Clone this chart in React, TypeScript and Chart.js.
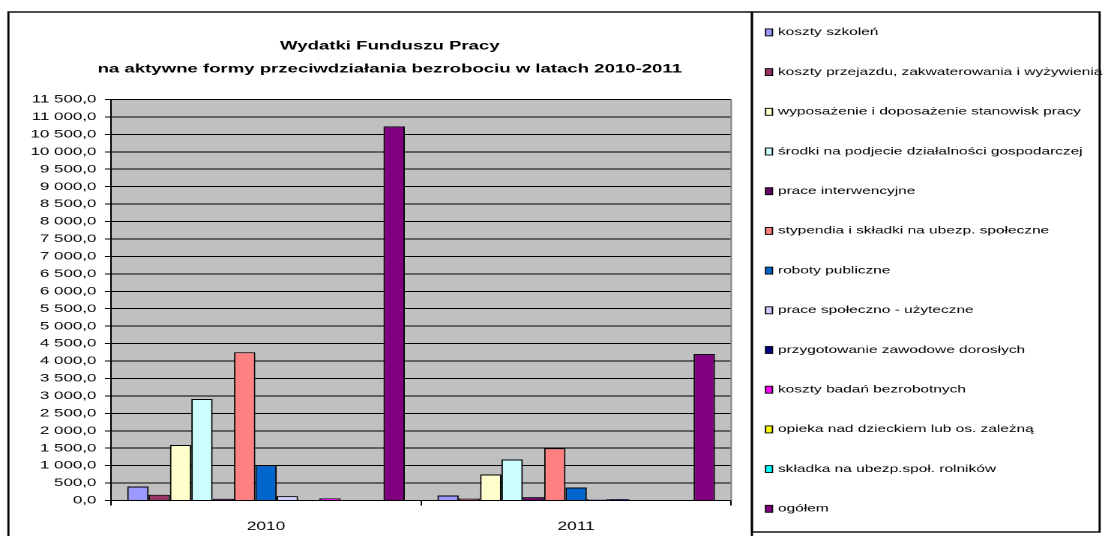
import React, { useEffect, useRef } from 'react';
import { Chart, registerables } from 'chart.js';

Chart.register(...registerables);

// ---------- data ----------
const categories = ['2010', '2011'];

const seriesLabels = [
  'koszty szkoleń',
  'koszty przejazdu, zakwaterowania i wyżywienia',
  'wyposażenie i doposażenie stanowisk pracy',
  'środki na podjecie działalności gospodarczej',
  'prace interwencyjne',
  'stypendia i składki na ubezp. społeczne',
  'roboty publiczne',
  'prace społeczno - użyteczne',
  'przygotowanie zawodowe dorosłych',
  'koszty badań bezrobotnych',
  'opieka nad dzieckiem lub os. zależną',
  'składka na ubezp.społ. rolników',
  'ogółem',
];

const seriesColors = [
  '#9999FF', '#993366', '#FFFFCC', '#CCFFFF', '#660066', '#FF8080', '#0066CC',
  '#CCCCFF', '#000080', '#FF00FF', '#FFFF00', '#00FFFF', '#800080',
];

const values2010 = [400, 165, 1590, 2910, 50, 4250, 1010, 125, 5, 60, 0, 0, 10730];
const values2011 = [143, 55, 746, 1176, 95, 1500, 373, 40, 40, 0, 0, 0, 4200];

const titleLines = [
  'Wydatki Funduszu Pracy',
  'na aktywne formy przeciwdziałania bezrobociu w latach 2010-2011',
];

const yMin = 0;
const yMax = 11500;
const yStep = 500;

// ---------- geometry (internal canvas units; canvas is stretched horizontally) ----------
const W = 737;
const H = 536;
const FONT = '"Liberation Sans", Arial, sans-serif';

const BOX_LEFT = 5.6;
const BOX_TOP = 12;
const LEGEND_LEFT = 501.5;
const LEGEND_RIGHT = 733.4;
const LEGEND_BOTTOM = 532;
const LEGEND_Y0 = 32.4;
const LEGEND_STEP = 39.7;
const PLOT_LEFT = 74;
const PLOT_RIGHT = 487.7;
const TITLE_LEFT = 32.3;

function fmt(v: number): string {
  const [i, d] = Number(v).toFixed(1).split('.');
  return i.replace(/\B(?=(\d{3})+(?!\d))/g, '\u00a0') + ',' + d;
}

const framePlugin = {
  id: 'frame',
  afterLayout(chart: any) {
    const t = chart.titleBlock;
    if (t) {
      t.left = TITLE_LEFT;
      t.right = PLOT_RIGHT;
      t.width = PLOT_RIGHT - TITLE_LEFT;
    }
  },
  beforeDraw(chart: any) {
    const { ctx, chartArea: a } = chart;
    ctx.save();
    ctx.fillStyle = '#C0C0C0';
    ctx.fillRect(a.left, a.top, a.right - a.left, a.bottom - a.top);
    ctx.restore();
  },
  afterDraw(chart: any) {
    const { ctx, chartArea: a } = chart;
    ctx.save();
    ctx.strokeStyle = '#808080';
    ctx.lineWidth = 1;
    ctx.beginPath();
    ctx.moveTo(a.right, a.top);
    ctx.lineTo(a.right, a.bottom);
    ctx.stroke();

    ctx.strokeStyle = '#000';
    ctx.lineWidth = 1.4;
    ctx.strokeRect(BOX_LEFT, BOX_TOP, LEGEND_LEFT - BOX_LEFT, 600);
    ctx.strokeRect(LEGEND_LEFT, BOX_TOP, LEGEND_RIGHT - LEGEND_LEFT, LEGEND_BOTTOM - BOX_TOP);

    ctx.font = `10.3px ${FONT}`;
    ctx.textBaseline = 'middle';
    ctx.textAlign = 'left';
    chart.data.datasets.forEach((ds: any, i: number) => {
      const y = LEGEND_Y0 + i * LEGEND_STEP;
      const bx = 510.6;
      ctx.fillStyle = ds.backgroundColor;
      ctx.fillRect(bx, y - 3.5, 4.6, 7);
      ctx.strokeStyle = '#000';
      ctx.lineWidth = 0.9;
      ctx.strokeRect(bx, y - 3.5, 4.6, 7);
      ctx.fillStyle = '#000';
      ctx.fillText(ds.label, 518.9, y);
    });
    ctx.restore();
  },
};

export default function App() {
  const ref = useRef<HTMLCanvasElement | null>(null);

  useEffect(() => {
    if (!ref.current) return;
    const datasets = seriesLabels.map((label, i) => ({
      label,
      data: [values2010[i], values2011[i]],
      backgroundColor: seriesColors[i],
      borderColor: '#000',
      borderWidth: 1,
      categoryPercentage: 0.895,
      barPercentage: 1,
    }));

    const chart = new Chart(ref.current, {
      type: 'bar',
      data: { labels: categories, datasets },
      plugins: [framePlugin],
      options: {
        responsive: false,
        animation: false,
        devicePixelRatio: 2,
        events: [],
        layout: { padding: { left: 0, right: W - PLOT_RIGHT, top: BOX_TOP, bottom: 0 } },
        plugins: {
          legend: { display: false },
          tooltip: { enabled: false },
          title: {
            display: true,
            text: titleLines,
            color: '#000',
            font: { family: FONT, size: 12.4, weight: 'bold', lineHeight: 23 / 12.4 },
            padding: { top: 22.5, bottom: 19 },
          },
        },
        scales: {
          x: {
            grid: {
              display: true,
              drawOnChartArea: false,
              drawTicks: true,
              tickLength: 5,
              color: '#000',
              offset: true,
            },
            border: { color: '#000', width: 1 },
            ticks: {
              color: '#000',
              font: { family: FONT, size: 11.5 },
              padding: 14.5,
              maxRotation: 0,
            },
            afterFit: (s: any) => {
              s.height = 35.5;
            },
          },
          y: {
            min: yMin,
            max: yMax,
            grid: { color: '#000', lineWidth: 1, tickLength: 4 },
            border: { color: '#000', width: 1 },
            ticks: {
              stepSize: yStep,
              maxTicksLimit: 100,
              autoSkip: false,
              padding: 5.7,
              color: '#000',
              font: { family: FONT, size: 11.3 },
              callback: (v: any) => fmt(Number(v)),
            },
            afterFit: (s: any) => {
              s.width = PLOT_LEFT;
            },
          },
        },
      } as any,
    });
    return () => chart.destroy();
  }, []);

  return (
    <div style={{ position: 'fixed', left: 0, top: 0, width: 1105, height: H, background: '#fff' }}>
      <canvas
        ref={ref}
        width={W}
        height={H}
        style={{ width: '1105px', height: `${H}px`, display: 'block' }}
      />
    </div>
  );
}
